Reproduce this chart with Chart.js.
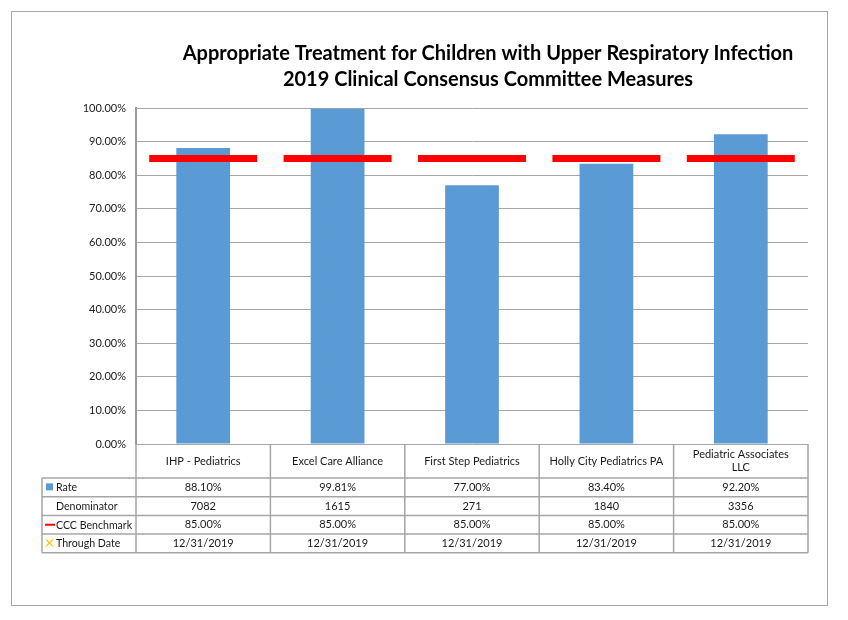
<!DOCTYPE html>
<html>
<head>
<meta charset="utf-8">
<script src="https://cdn.jsdelivr.net/npm/chart.js@4/dist/chart.umd.min.js"></script>
<style>
html, body { margin: 0; padding: 0; background: #ffffff; }
#wrap { position: absolute; left: 0; top: 0; width: 848px; height: 620px; }
#frame { position: absolute; left: 11px; top: 11px; width: 815px; height: 593px; border: 1px solid #a6a6a6; pointer-events: none; }
canvas { position: absolute; left: 0; top: 0; }
</style>
</head>
<body>
<div id="wrap">
  <canvas id="c" width="848" height="620"></canvas>
  <div id="frame"></div>
</div>
<script>
// ---- data ----
const titleLines = [
  "Appropriate Treatment for Children with Upper Respiratory Infection",
  "2019 Clinical Consensus Committee Measures"
];
const categories = [
  "IHP - Pediatrics",
  "Excel Care Alliance",
  "First Step Pediatrics",
  "Holly City Pediatrics PA",
  ["Pediatric Associates", "LLC"]
];
const rateValues = [88.10, 99.81, 77.00, 83.40, 92.20];
const denominatorValues = [7082, 1615, 271, 1840, 3356];
const benchmarkValues = [85.00, 85.00, 85.00, 85.00, 85.00];
const throughDates = ["12/31/2019", "12/31/2019", "12/31/2019", "12/31/2019", "12/31/2019"];
const yTickValues = [0, 10, 20, 30, 40, 50, 60, 70, 80, 90, 100];
const rowNames = ["Rate", "Denominator", "CCC Benchmark", "Through Date"];

// ---- styles ----
const FONT = "Lato, 'Open Sans', sans-serif";
const BLUE = "#5b9bd5";
const RED = "#ff0000";
const ORANGE = "#ffc000";
const GRID = "#a6a6a6";
const AXIS = "#9a9a9a";
const TEXT = "#1a1a1a";

const pct = v => v.toFixed(2) + "%";

const tablePlugin = {
  id: "tableAndTitle",
  afterDraw(chart) {
    const ctx = chart.ctx;
    const area = chart.chartArea;
    const xs = chart.scales.x;
    const half = (xs.getPixelForValue(1) - xs.getPixelForValue(0)) / 2;
    const edges = [];
    for (let i = 0; i < categories.length; i++) edges.push(xs.getPixelForValue(i) - half);
    edges.push(xs.getPixelForValue(categories.length - 1) + half);

    // title
    ctx.save();
    ctx.fillStyle = "#000";
    ctx.font = "bold 20px " + FONT;
    ctx.textAlign = "center";
    ctx.textBaseline = "middle";
    const tcx = (area.left + area.right) / 2 + 16;
    ctx.fillText(titleLines[0], tcx, 54);
    ctx.fillText(titleLines[1], tcx, 80);
    ctx.restore();

    // table geometry
    const top = area.bottom;
    const headerBottom = top + 34;
    const rowH = 18.7;
    const rowsY = [headerBottom];
    for (let r = 0; r < rowNames.length; r++) rowsY.push(headerBottom + rowH * (r + 1));
    const labelLeft = 42;
    const tableBottom = rowsY[rowsY.length - 1];

    ctx.save();
    ctx.strokeStyle = GRID;
    ctx.lineWidth = 1.5;
    ctx.beginPath();
    rowsY.forEach(y => { ctx.moveTo(labelLeft, y); ctx.lineTo(edges[edges.length - 1], y); });
    ctx.moveTo(labelLeft, headerBottom); ctx.lineTo(labelLeft, tableBottom);
    edges.forEach(x => { ctx.moveTo(x, top); ctx.lineTo(x, tableBottom); });
    ctx.stroke();

    ctx.fillStyle = TEXT;
    ctx.font = "11px " + FONT;
    ctx.textAlign = "center";
    ctx.textBaseline = "middle";
    // header labels
    categories.forEach((lab, i) => {
      const cx = (edges[i] + edges[i + 1]) / 2;
      const lines = Array.isArray(lab) ? lab : [lab];
      const mid = (top + headerBottom) / 2;
      lines.forEach((ln, k) => {
        ctx.fillText(ln, cx, mid + (k - (lines.length - 1) / 2) * 13);
      });
    });
    // data rows
    const rows = [
      rateValues.map(pct),
      denominatorValues.map(v => String(v)),
      benchmarkValues.map(pct),
      throughDates
    ];
    rows.forEach((vals, r) => {
      const cy = (rowsY[r] + rowsY[r + 1]) / 2;
      vals.forEach((v, i) => {
        const cx = (edges[i] + edges[i + 1]) / 2;
        ctx.fillText(v, cx, cy);
      });
    });
    // row names with legend keys
    ctx.textAlign = "left";
    ctx.font = "10.6px " + FONT;
    rowNames.forEach((name, r) => {
      const cy = (rowsY[r] + rowsY[r + 1]) / 2;
      ctx.fillStyle = TEXT;
      ctx.fillText(name, labelLeft + 14, cy + 0.5);
      if (r === 0) {
        ctx.fillStyle = BLUE;
        ctx.fillRect(labelLeft + 4, cy - 4, 7, 7);
      } else if (r === 2) {
        ctx.strokeStyle = RED;
        ctx.lineWidth = 2;
        ctx.beginPath();
        ctx.moveTo(labelLeft + 3, cy); ctx.lineTo(labelLeft + 13, cy);
        ctx.stroke();
      } else if (r === 3) {
        ctx.strokeStyle = ORANGE;
        ctx.lineWidth = 1.2;
        ctx.beginPath();
        ctx.moveTo(labelLeft + 4, cy - 4); ctx.lineTo(labelLeft + 11, cy + 3);
        ctx.moveTo(labelLeft + 11, cy - 4); ctx.lineTo(labelLeft + 4, cy + 3);
        ctx.stroke();
      }
    });
    ctx.restore();
  }
};

new Chart(document.getElementById("c"), {
  data: {
    labels: categories,
    datasets: [
      {
        type: "bar",
        label: "Rate",
        data: rateValues,
        backgroundColor: BLUE,
        borderWidth: 0,
        barPercentage: 0.4,
        categoryPercentage: 1.0,
        order: 2
      },
      {
        type: "line",
        label: "CCC Benchmark",
        data: benchmarkValues,
        showLine: false,
        pointStyle: "line",
        pointRadius: 54,
        pointHoverRadius: 54,
        pointBorderWidth: 7,
        pointHoverBorderWidth: 7,
        pointBorderColor: RED,
        pointBackgroundColor: RED,
        borderColor: RED,
        order: 1
      }
    ]
  },
  options: {
    responsive: false,
    animation: false,
    events: [],
    layout: { autoPadding: false, padding: { top: 108, bottom: 176, left: 0, right: 40 } },
    plugins: {
      legend: { display: false },
      title: { display: false },
      tooltip: { enabled: false }
    },
    scales: {
      x: {
        type: "category",
        display: false,
        offset: true
      },
      y: {
        min: 0,
        max: 100,
        afterFit(scale) { scale.width = 136; },
        afterBuildTicks(scale) { scale.ticks = yTickValues.map(v => ({ value: v })); },
        border: { display: true, color: AXIS, width: 2 },
        grid: { color: GRID, lineWidth: 1, drawTicks: false },
        ticks: {
          padding: 10,
          color: TEXT,
          font: { family: FONT, size: 11 },
          callback: v => pct(v)
        }
      }
    }
  },
  plugins: [tablePlugin]
});
</script>
</body>
</html>
